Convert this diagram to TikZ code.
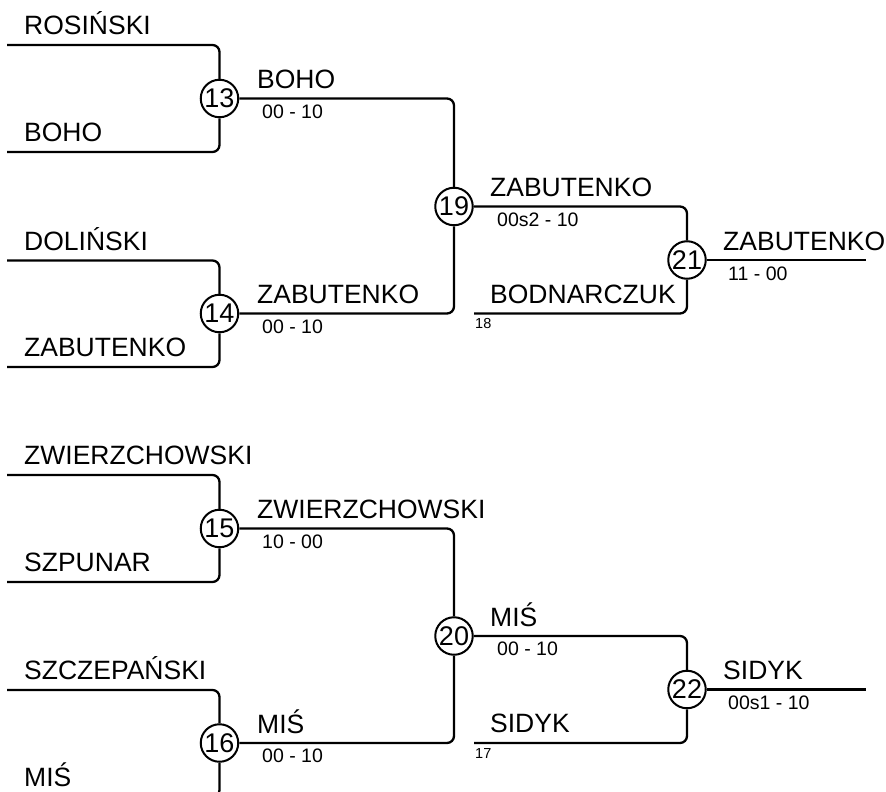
\documentclass[tikz,border=0pt]{standalone}
\usepackage{fontspec}
\setmainfont{Liberation Sans}
\usetikzlibrary{positioning}

\begin{document}
\begin{tikzpicture}[
    x=1pt, y=-1pt,
    bline/.style={line width=2.3pt, rounded corners=7pt},
    match/.style={draw, circle, line width=2pt, minimum size=37.5pt,
                  inner sep=0pt, fill=white, font=\fontsize{27}{27}\selectfont},
    player/.style={anchor=base west, inner sep=0pt,
                   font=\fontsize{26.5}{30}\selectfont},
    score/.style={anchor=base west, inner sep=0pt,
                  font=\fontsize{19.5}{22}\selectfont},
    seed/.style={anchor=base west, inner sep=0pt,
                 font=\fontsize{14.5}{16}\selectfont},
]
\useasboundingbox (0,0) rectangle (886,792);

% Upper half
\coordinate (f1) at (7,45);
\coordinate (f2) at (7,152);
\coordinate (f3) at (7,260.5);
\coordinate (f4) at (7,367);
\node[match] (m13) at (219.5,98.5) {13};
\node[match] (m14) at (219.5,313.5) {14};
\node[match] (m19) at (454,206.5) {19};
\node[match] (m21) at (687,260) {21};
\coordinate (b18) at (474,313.5);
\coordinate (e21) at (866,260);

\node[player] (rosinski) at (24,34.5) {ROSIŃSKI};
\node[player] (boho1) at (24,141.5) {BOHO};
\node[player] (dolinski) at (24,250) {DOLIŃSKI};
\node[player] (zabutenko1) at (24,356.5) {ZABUTENKO};
\node[player] (boho2) at (257,88.5) {BOHO};
\node[score] (s13) at (262,118) {00 - 10};
\node[player] (zabutenko2) at (257,303.5) {ZABUTENKO};
\node[score] (s14) at (262,333) {00 - 10};
\node[player] (zabutenko3) at (490,196.5) {ZABUTENKO};
\node[score] (s19) at (497,226) {00s2 - 10};
\node[player] (bodnarczuk) at (490,303) {BODNARCZUK};
\node[seed] (n18) at (475,328.5) {18};
\node[player] (zabutenko4) at (723,250) {ZABUTENKO};
\node[score] (s21) at (728,280) {11 - 00};

\draw[bline] (f1) -| (m13);
\draw[bline] (f2) -| (m13);
\draw[bline] (f3) -| (m14);
\draw[bline] (f4) -| (m14);
\draw[bline] (m13) -| (m19);
\draw[bline] (m14) -| (m19);
\draw[bline] (m19) -| (m21);
\draw[bline] (b18) -| (m21);
\draw[bline] (m21) -- (e21);

% Lower half
\coordinate (f5) at (7,475);
\coordinate (f6) at (7,582);
\coordinate (f7) at (7,690);
\coordinate (f8) at (7,797);
\node[match] (m15) at (219.5,528.5) {15};
\node[match] (m16) at (219.5,743) {16};
\node[match] (m20) at (454,636) {20};
\node[match] (m22) at (687,689.5) {22};
\coordinate (b17) at (474,743);
\coordinate (e22) at (866,689.5);

\node[player] (zwierz1) at (24,464.5) {ZWIERZCHOWSKI};
\node[player] (szpunar) at (24,571.5) {SZPUNAR};
\node[player] (szczep) at (24,679.5) {SZCZEPAŃSKI};
\node[player] (mis1) at (24,786) {MIŚ};
\node[player] (zwierz2) at (257,518) {ZWIERZCHOWSKI};
\node[score] (s15) at (262,548) {10 - 00};
\node[player] (mis2) at (257,733) {MIŚ};
\node[score] (s16) at (262,762.5) {00 - 10};
\node[player] (mis3) at (490,626) {MIŚ};
\node[score] (s20) at (497,655.5) {00 - 10};
\node[player] (sidyk1) at (490,732.5) {SIDYK};
\node[seed] (n17) at (475,758) {17};
\node[player] (sidyk2) at (723,679.5) {SIDYK};
\node[score] (s22) at (728,709.5) {00s1 - 10};

\draw[bline] (f5) -| (m15);
\draw[bline] (f6) -| (m15);
\draw[bline] (f7) -| (m16);
\draw[bline] (f8) -| (m16);
\draw[bline] (m15) -| (m20);
\draw[bline] (m16) -| (m20);
\draw[bline] (m20) -| (m22);
\draw[bline] (b17) -| (m22);
\draw[bline] (m22) -- (e22);
\end{tikzpicture}
\end{document}
